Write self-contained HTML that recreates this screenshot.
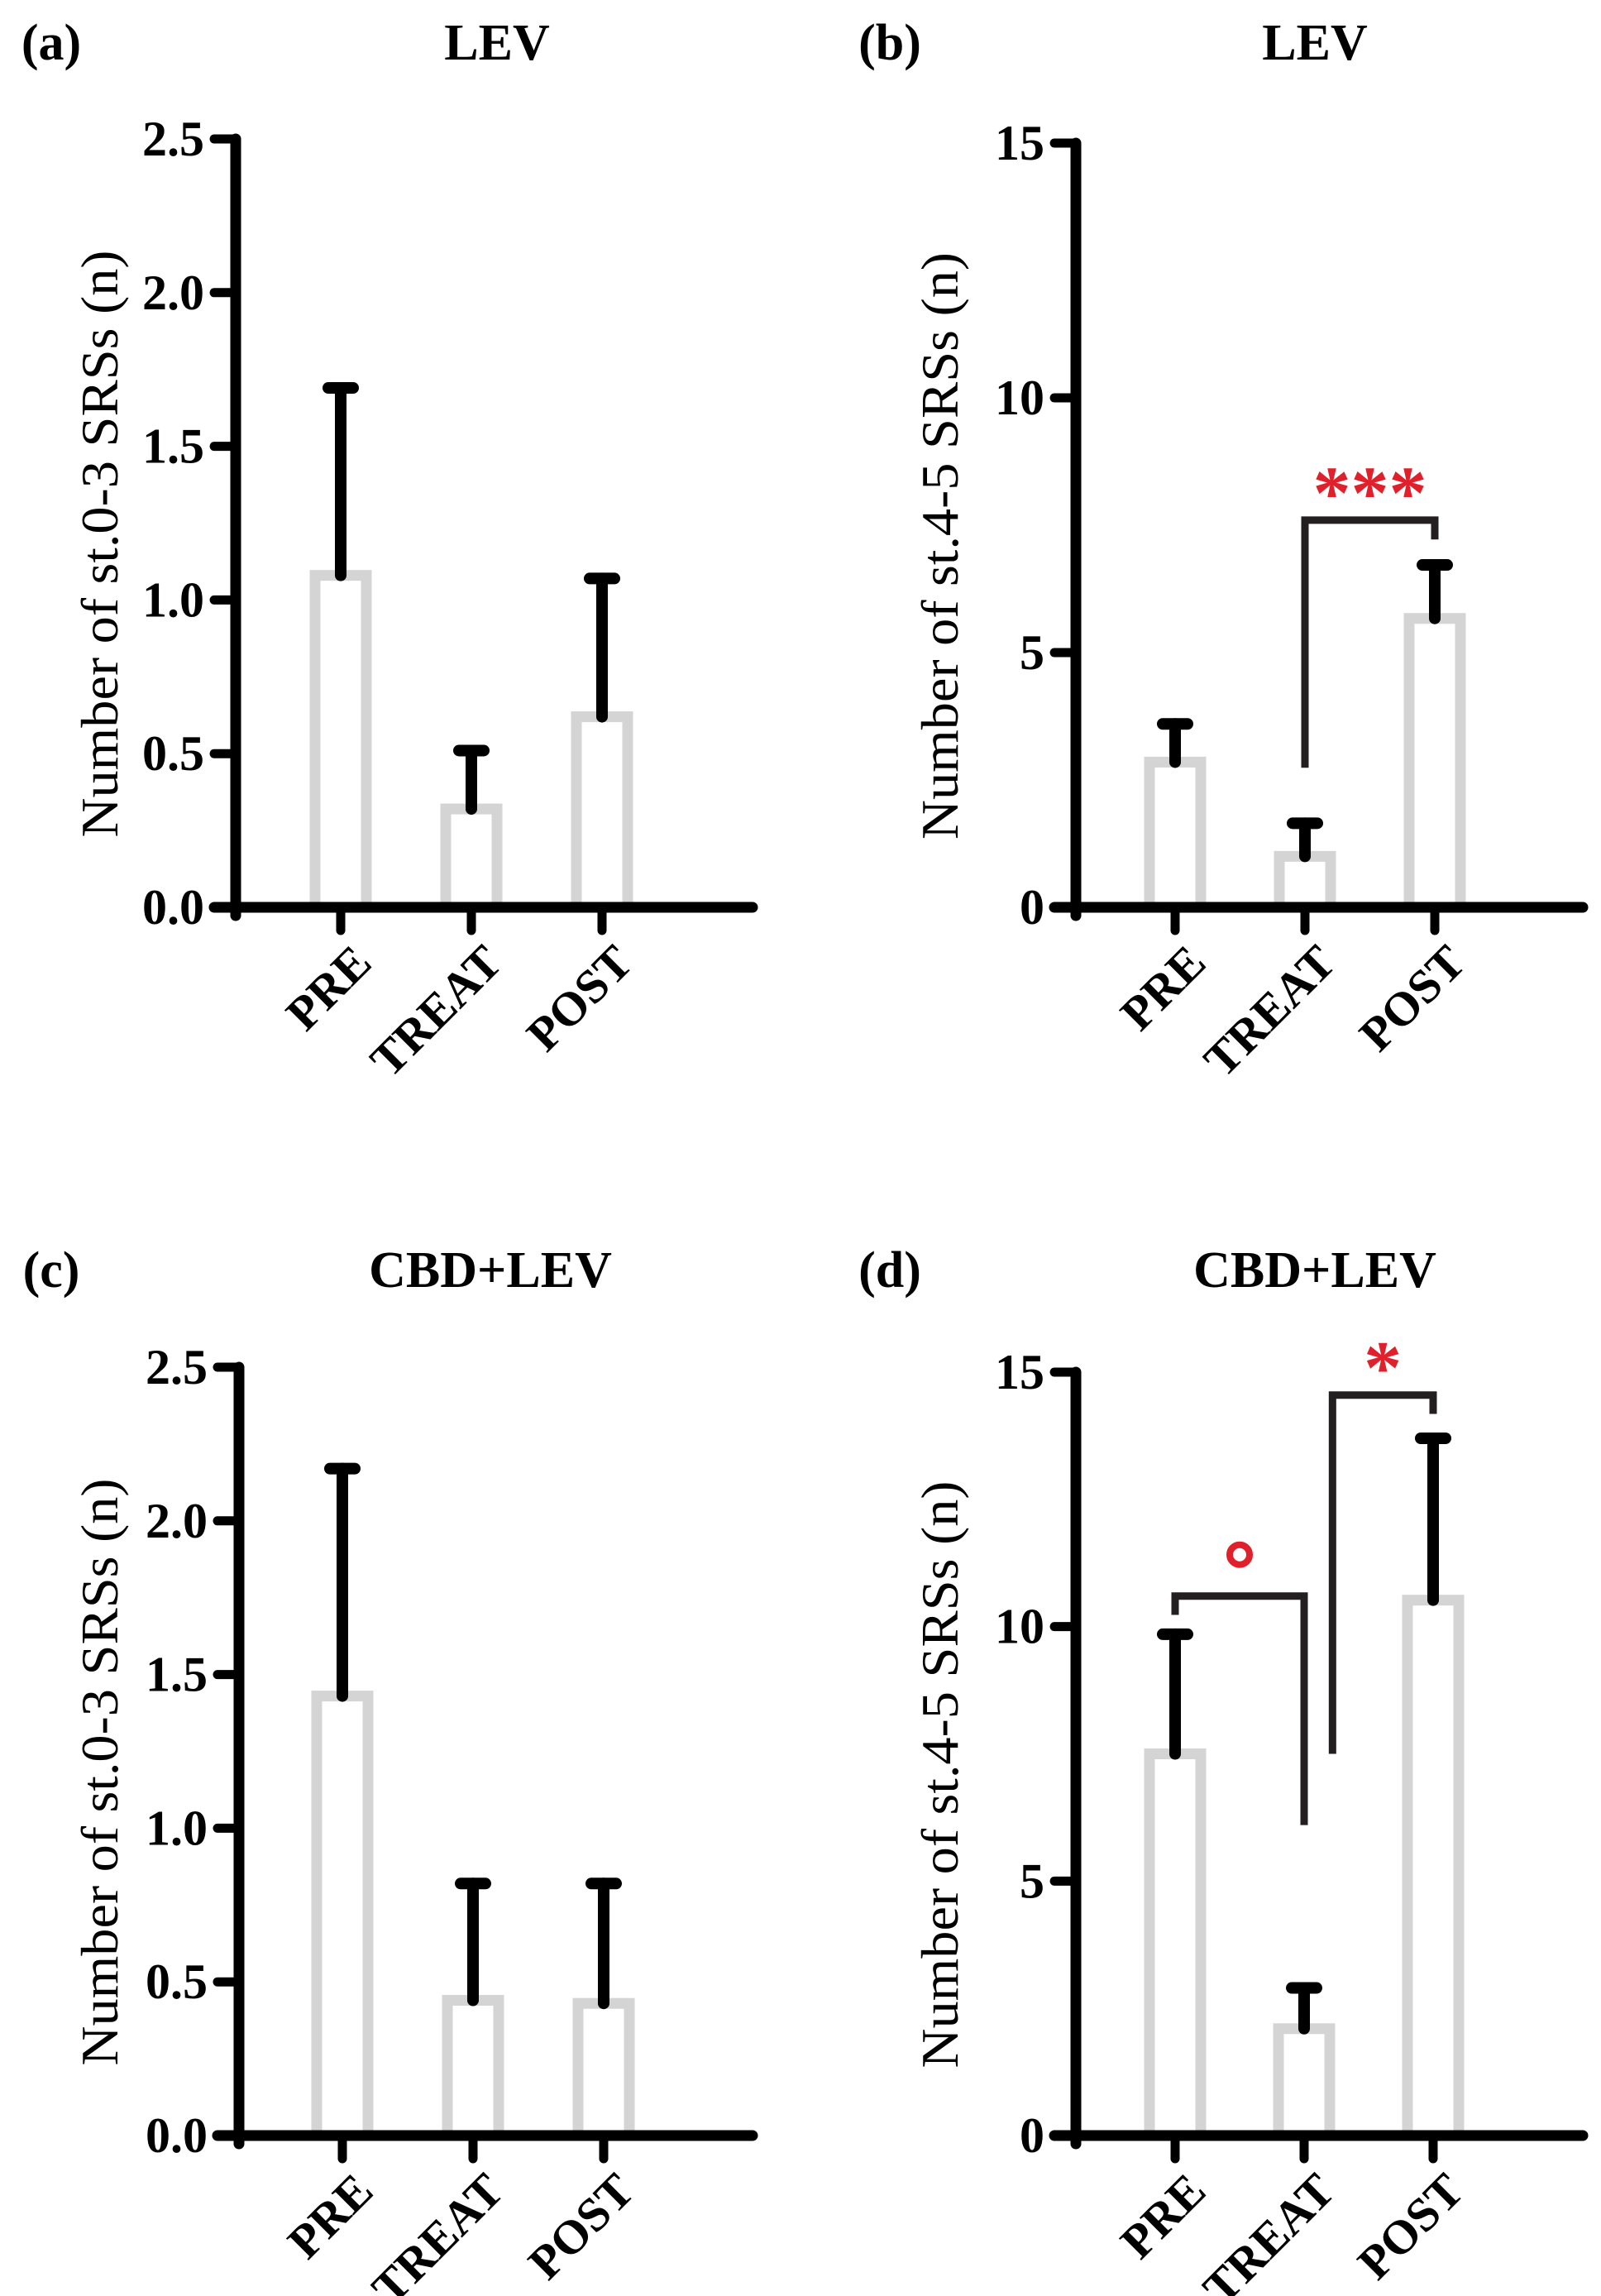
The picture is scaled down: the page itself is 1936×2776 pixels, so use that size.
<!DOCTYPE html>
<html><head><meta charset="utf-8">
<style>
html,body{margin:0;padding:0;background:#fff;}
svg{display:block;}
text{font-family:"Liberation Serif",serif;}
</style></head>
<body>
<svg id="fig" width="1936" height="2776" viewBox="0 0 1936 2776" xmlns="http://www.w3.org/2000/svg"></svg>
<script>
// ---- data ----
const categories = ["PRE", "TREAT", "POST"];
const meanA = [1.08, 0.32, 0.62];
const errA  = [1.69, 0.51, 1.07];
const meanB = [2.85, 1.0, 5.67];
const errB  = [3.6, 1.65, 6.72];
const meanC = [1.43, 0.44, 0.43];
const errC  = [2.17, 0.82, 0.82];
const meanD = [7.5, 2.1, 10.52];
const errD  = [9.85, 2.9, 13.7];
const ticksSmall = [0, 0.5, 1.0, 1.5, 2.0, 2.5];
const tickLabelsSmall = ["0.0", "0.5", "1.0", "1.5", "2.0", "2.5"];
const ticksLarge = [0, 5, 10, 15];
const tickLabelsLarge = ["0", "5", "10", "15"];
// brackets: [fromIndex, toIndex, fromEndValue, topValue, toEndValue, label]
const bracketsB = [[1, 2, 2.74, 7.6, 7.22, "***"]];
const bracketsD = [[0, 1, 10.23, 10.6, 6.1, "o"], [1.22, 2, 7.5, 14.55, 14.18, "*"]];

const NS = "http://www.w3.org/2000/svg";
const svg = document.getElementById("fig");
function mk(tag, attrs, parent) {
  const e = document.createElementNS(NS, tag);
  for (const k in attrs) e.setAttribute(k, attrs[k]);
  (parent || svg).appendChild(e);
  return e;
}

const panels = [
  {key: "a", title: "LEV", ax: 285, y0: 1097, yTop: 168, xEnd: 910, cx0: 412, step: 158, max: 2.5, ticks: ticksSmall, tl: tickLabelsSmall, mean: meanA, err: errA, ylab: "Number of st.0-3 SRSs (n)", labX: 62, titleX: 601, titleY: 72, ylabX: 120, brackets: []},
  {key: "b", title: "LEV", ax: 1301, y0: 1097, yTop: 173, xEnd: 1914, cx0: 1421, step: 157, max: 15, ticks: ticksLarge, tl: tickLabelsLarge, mean: meanB, err: errB, ylab: "Number of st.4-5 SRSs (n)", labX: 1076, titleX: 1590, titleY: 72, ylabX: 1136, brackets: bracketsB},
  {key: "c", title: "CBD+LEV", ax: 289, y0: 2582, yTop: 1653, xEnd: 910, cx0: 414, step: 158, max: 2.5, ticks: ticksSmall, tl: tickLabelsSmall, mean: meanC, err: errC, ylab: "Number of st.0-3 SRSs (n)", labX: 62, titleX: 593, titleY: 1556, ylabX: 120, brackets: []},
  {key: "d", title: "CBD+LEV", ax: 1301, y0: 2582, yTop: 1659, xEnd: 1914, cx0: 1421, step: 156, max: 15, ticks: ticksLarge, tl: tickLabelsLarge, mean: meanD, err: errD, ylab: "Number of st.4-5 SRSs (n)", labX: 1076, titleX: 1590, titleY: 1556, ylabX: 1136, brackets: bracketsD}
];

panels.forEach(p => {
  const g = mk("g", {});
  
  
  const ys = v => p.y0 - (v / p.max) * (p.y0 - p.yTop);
  const xs = i => p.cx0 + i * p.step;

  const pl = mk("text", {x: p.labX, y: p.titleY, "font-size": 62, "font-weight": "bold", "text-anchor": "middle"}, g);
  pl.textContent = "(" + p.key + ")";
  
  
  const t = mk("text", {x: p.titleX, y: p.titleY, "font-size": 62, "font-weight": "bold", "text-anchor": "middle"}, g);
  t.textContent = p.title;
  
  
  const yc = (p.y0 + p.yTop) / 2 + 25;
  const yl = mk("text", {x: 0, y: 0, "font-size": 64, "text-anchor": "middle", textLength: 710, lengthAdjust: "spacingAndGlyphs", transform: `translate(${p.ylabX + 22},${yc}) rotate(-90)`}, g);
  yl.textContent = p.ylab;
  
  

  p.mean.forEach((v, i) => {
    const bw = 62;
    const r = mk("rect", {x: xs(i) - bw / 2, y: ys(v), width: bw, height: p.y0 - ys(v), fill: "none", stroke: "#d4d4d4", "stroke-width": 13}, g);
    
    
  });
  p.err.forEach((v, i) => {
    const eg = mk("g", {stroke: "#000", "stroke-width": 14, "stroke-linecap": "round"}, g);
    
    
    mk("line", {x1: xs(i), x2: xs(i), y1: ys(p.mean[i]), y2: ys(v)}, eg);
    mk("line", {x1: xs(i) - 15, x2: xs(i) + 15, y1: ys(v), y2: ys(v)}, eg);
  });

  const ax = mk("g", {stroke: "#000", "stroke-linecap": "round"}, g);
  
  
  mk("line", {x1: p.ax, x2: p.ax, y1: p.yTop, y2: p.y0 + 10, "stroke-width": 13}, ax);
  mk("line", {x1: p.ax - 26, x2: p.xEnd, y1: p.y0, y2: p.y0, "stroke-width": 13}, ax);
  p.ticks.forEach((v, i) => {
    mk("line", {x1: p.ax - 26, x2: p.ax, y1: ys(v), y2: ys(v), "stroke-width": 11}, ax);
    const tt = mk("text", {x: p.ax - 38, y: ys(v) + 20, "font-size": 60, "font-weight": "bold", "text-anchor": "end", stroke: "none"}, g);
    tt.textContent = p.tl[i];
    
    
  });
  categories.forEach((c, i) => {
    mk("line", {x1: xs(i), x2: xs(i), y1: p.y0, y2: p.y0 + 28, "stroke-width": 11}, ax);
    const xt = mk("text", {x: 0, y: 0, "font-size": 58, "font-weight": "bold", "text-anchor": "end", transform: `translate(${xs(i) + 40},${p.y0 + 70}) rotate(-45)`}, g);
    xt.textContent = c;
    
    
  });

  p.brackets.forEach(b => {
    const [i1, i2, v1, vt, v2, lab] = b;
    const bg = mk("g", {}, g);
    
    
    mk("polyline", {points: `${xs(i1)},${ys(v1)} ${xs(i1)},${ys(vt)} ${xs(i2)},${ys(vt)} ${xs(i2)},${ys(v2)}`, fill: "none", stroke: "#231f20", "stroke-width": 9}, bg);
    const mx = (xs(i1) + xs(i2)) / 2;
    if (lab === "o") {
      const c = mk("circle", {cx: mx, cy: ys(vt) - 50, r: 12, fill: "none", stroke: "#e0202a", "stroke-width": 8}, bg);
      
      
    } else {
      const s = mk("text", {x: mx, y: ys(vt) - 2, "font-size": 92, "font-weight": "bold", fill: "#e0202a", "text-anchor": "middle", "font-family": "DejaVu Sans, sans-serif"}, bg);
      s.textContent = lab;
      
      
    }
  });
});
</script>
</body></html>
